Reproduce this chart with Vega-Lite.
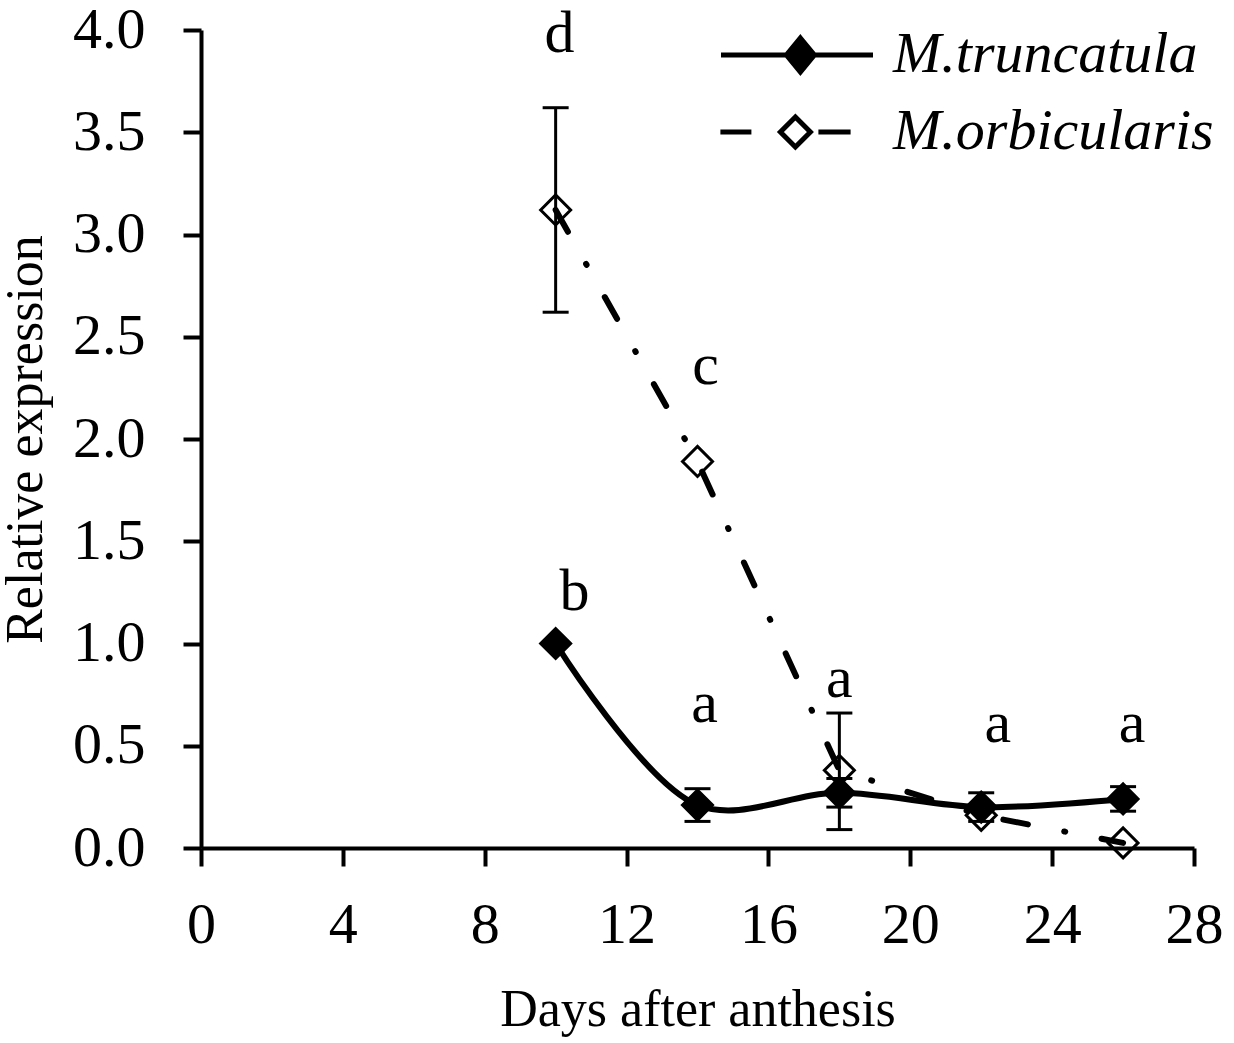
{
  "$schema": "https://vega.github.io/schema/vega-lite/v6.json",
  "autosize": "none",
  "width": 993,
  "height": 818,
  "padding": {"left": 201, "top": 30, "right": 40, "bottom": 195},
  "background": "white",
  "config": {
    "view": {"stroke": null},
    "axis": {
      "grid": false,
      "domainColor": "black",
      "domainWidth": 4,
      "tickColor": "black",
      "tickWidth": 4,
      "tickSize": 18,
      "labelColor": "black",
      "labelFont": "Liberation Serif",
      "labelFontSize": 58,
      "labelFlush": false,
      "labelOverlap": false,
      "labelBound": false,
      "titleColor": "black",
      "titleFont": "Liberation Serif",
      "titleFontSize": 52,
      "titleFontWeight": "normal"
    }
  },
  "datasets": {
    "expr": [
      {"series": "M.truncatula", "day": 10, "value": 1.0, "lo": null, "hi": null},
      {"series": "M.truncatula", "day": 14, "value": 0.21, "lo": 0.13, "hi": 0.29},
      {"series": "M.truncatula", "day": 18, "value": 0.27, "lo": 0.2, "hi": 0.34},
      {"series": "M.truncatula", "day": 22, "value": 0.2, "lo": 0.13, "hi": 0.27},
      {"series": "M.truncatula", "day": 26, "value": 0.24, "lo": 0.18, "hi": 0.3},
      {"series": "M.orbicularis", "day": 10, "value": 3.12, "lo": 2.62, "hi": 3.62},
      {"series": "M.orbicularis", "day": 14, "value": 1.89, "lo": null, "hi": null},
      {"series": "M.orbicularis", "day": 18, "value": 0.38, "lo": 0.09, "hi": 0.66},
      {"series": "M.orbicularis", "day": 22, "value": 0.16, "lo": null, "hi": null},
      {"series": "M.orbicularis", "day": 26, "value": 0.025, "lo": null, "hi": null}
    ],
    "letters": [
      {"day": 10.11, "pos": 3.89, "label": "d"},
      {"day": 14.23, "pos": 2.27, "label": "c"},
      {"day": 10.53, "pos": 1.165, "label": "b"},
      {"day": 14.2, "pos": 0.616, "label": "a"},
      {"day": 18.0, "pos": 0.738, "label": "a"},
      {"day": 22.47, "pos": 0.518, "label": "a"},
      {"day": 26.25, "pos": 0.518, "label": "a"}
    ]
  },
  "data": {"name": "expr"},
  "layer": [
    {
      "transform": [{"filter": "datum.lo != null"}],
      "mark": {
        "type": "errorbar",
        "color": "black",
        "ticks": {"size": 26, "thickness": 3, "color": "black", "opacity": 1},
        "rule": {"strokeWidth": 3, "color": "black", "opacity": 1}
      },
      "encoding": {
        "x": {"field": "day", "type": "quantitative", "title": "Days after anthesis"},
        "y": {"field": "lo", "type": "quantitative", "title": "Relative expression"},
        "y2": {"field": "hi"}
      }
    },
    {
      "mark": {"type": "point", "shape": "diamond", "filled": true, "size": 900, "stroke": "black", "strokeWidth": 3, "opacity": 1},
      "encoding": {
        "x": {"field": "day", "type": "quantitative", "title": "Days after anthesis"},
        "y": {"field": "value", "type": "quantitative", "title": "Relative expression"},
        "fill": {
          "field": "series",
          "type": "nominal",
          "scale": {"domain": ["M.truncatula", "M.orbicularis"], "range": ["black", "transparent"]},
          "legend": {
            "title": null,
            "orient": "none",
            "legendX": 567,
            "legendY": -4,
            "symbolSize": 1600,
            "symbolStrokeWidth": 5,
            "symbolStrokeColor": "black",
            "symbolOpacity": 1,
            "labelFont": "Liberation Serif",
            "labelFontStyle": "italic",
            "labelFontSize": 58,
            "labelColor": "black",
            "labelOffset": 67,
            "labelLimit": 0,
            "rowPadding": 19,
            "encode": {
              "symbols": {
                "update": {
                  "shape": {"signal": "datum.value === 'M.truncatula' ? 'M-3.8,0L3.8,0M0.17,-0.85L0.87,0L0.17,0.85L-0.53,0Z' : 'M-3.83,0L-2.28,0M-0.08,-0.75L0.67,0L-0.08,0.75L-0.83,0ZM1.07,0L2.68,0'"},
                  "stroke": {"value": "black"},
                  "strokeWidth": {"value": 5}
                }
              }
            }
          }
        }
      }
    },
    {
      "transform": [{"filter": "datum.series === 'M.truncatula'"}],
      "mark": {"type": "line", "interpolate": "catmull-rom", "color": "black", "strokeWidth": 6},
      "encoding": {
        "x": {"field": "day", "type": "quantitative", "title": "Days after anthesis"},
        "y": {"field": "value", "type": "quantitative", "title": "Relative expression"}
      }
    },
    {
      "transform": [{"filter": "datum.series === 'M.orbicularis'"}],
      "mark": {"type": "line", "interpolate": "linear", "color": "black", "strokeWidth": 6, "strokeDash": [25, 37, 1, 37], "strokeCap": "round"},
      "encoding": {
        "x": {"field": "day", "type": "quantitative", "title": "Days after anthesis",
          "scale": {"domain": [0, 28], "nice": false, "zero": false},
          "axis": {"values": [0, 4, 8, 12, 16, 20, 24, 28], "title": "Days after anthesis", "labelPadding": 30, "titlePadding": 30}
        },
        "y": {"field": "value", "type": "quantitative", "title": "Relative expression",
          "scale": {"domain": [0, 4], "nice": false},
          "axis": {"values": [0, 0.5, 1, 1.5, 2, 2.5, 3, 3.5, 4], "format": ".1f", "title": "Relative expression", "labelPadding": 38, "titlePadding": 20}
        }
      }
    },
    {
      "data": {"name": "letters"},
      "mark": {"type": "text", "font": "Liberation Serif", "fontSize": 60, "baseline": "alphabetic", "align": "center", "color": "black"},
      "encoding": {
        "x": {"field": "day", "type": "quantitative", "title": "Days after anthesis"},
        "y": {"field": "pos", "type": "quantitative", "title": "Relative expression"},
        "text": {"field": "label"}
      }
    }
  ]
}
